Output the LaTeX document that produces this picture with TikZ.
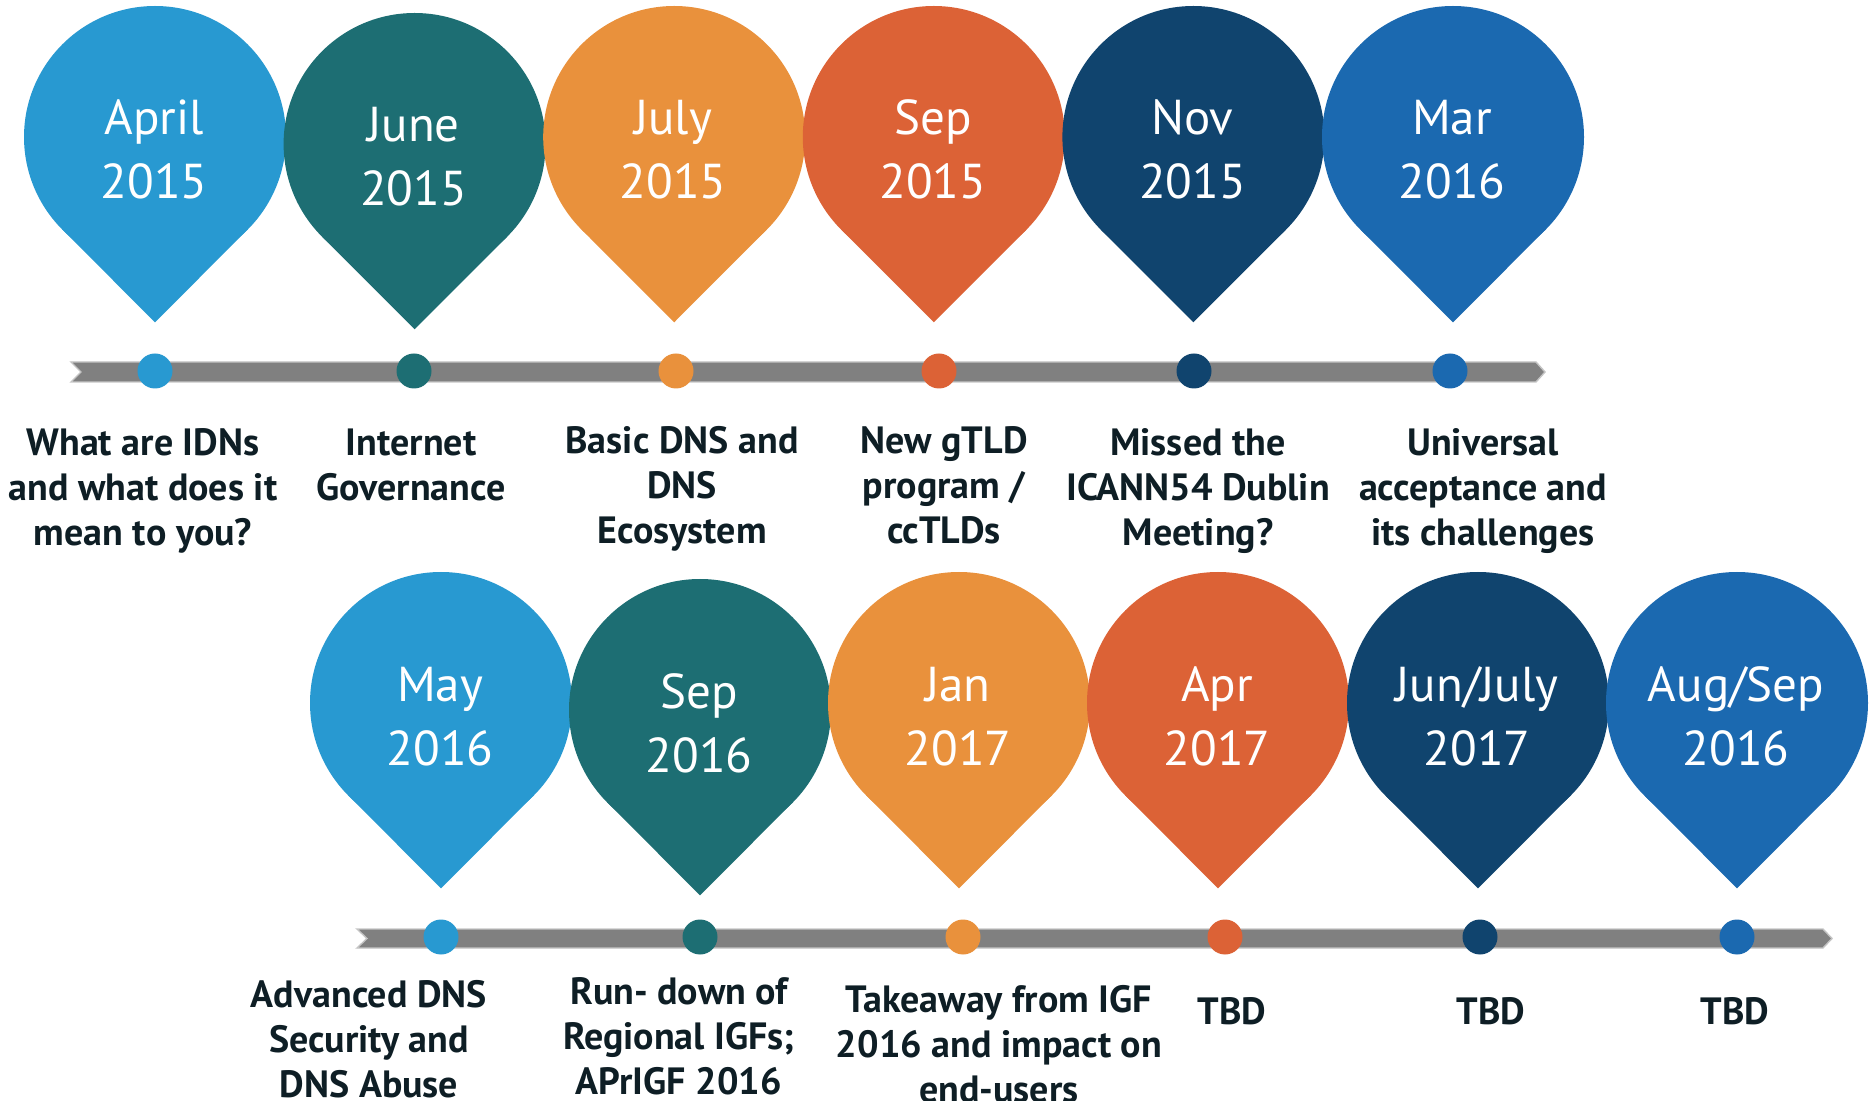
\documentclass[tikz,border=0pt]{standalone}
\usepackage{fontspec}
\setmainfont{PT Sans}
\definecolor{cA}{HTML}{2899D1}
\definecolor{cB}{HTML}{1D6E73}
\definecolor{cC}{HTML}{E9913C}
\definecolor{cD}{HTML}{DC6236}
\definecolor{cE}{HTML}{10446E}
\definecolor{cF}{HTML}{1B69B0}
\definecolor{txt}{HTML}{0E1E25}
\definecolor{barfill}{HTML}{808080}
\definecolor{baredge}{HTML}{C4C4C4}
\newcommand\tlstack[1]{\vtop{\halign{\hfil##\hfil\cr#1\crcr}}}
\newcommand\tlpin[3]{%
  \fill[#3] (#1,#2) circle[radius=131];
  \fill[#3] (#1,#2+185.3) -- (#1-92.6,#2+92.6) -- (#1,#2) -- (#1+92.6,#2+92.6) -- cycle;}
\begin{document}
\begin{tikzpicture}[x=0.5pt,y=-0.5pt,
  pinlabel/.style={text=white,font=\fontsize{24.5}{32}\selectfont,anchor=base,inner sep=0pt},
  desc/.style={text=txt,font=\bfseries\fontsize{19}{22.5}\selectfont,anchor=base,inner sep=0pt},
  dot/.style={circle,inner sep=0pt,minimum size=17.5pt},
  bar/.style={fill=barfill,draw=baredge,line width=0.7pt}]
\useasboundingbox (0,0) rectangle (1876,1101);
% ---- top row ----
\tlpin{155}{137}{cA}
\tlpin{414.6}{144}{cB}
\tlpin{674.2}{137}{cC}
\tlpin{933.8}{137}{cD}
\tlpin{1193.4}{137}{cE}
\tlpin{1453}{137}{cF}
\node[pinlabel] (p1) at (154,135) {\tlstack{April\cr 2015}};
\node[pinlabel] (p2) at (413.6,142) {\tlstack{June\cr 2015}};
\node[pinlabel] (p3) at (673.2,135) {\tlstack{July\cr 2015}};
\node[pinlabel] (p4) at (932.8,135) {\tlstack{Sep\cr 2015}};
\node[pinlabel] (p5) at (1192.4,135) {\tlstack{Nov\cr 2015}};
\node[pinlabel] (p6) at (1452,135) {\tlstack{Mar\cr 2016}};
\path[bar] (71,362) -- (1536,362) -- (1545,372) -- (1536,382) -- (71,382) -- (81,372) -- cycle;
\node[dot,fill=cA] (t1) at (155,371) {};
\node[dot,fill=cB] (t2) at (414,371) {};
\node[dot,fill=cC] (t3) at (676,371) {};
\node[dot,fill=cD] (t4) at (939,371) {};
\node[dot,fill=cE] (t5) at (1194,371) {};
\node[dot,fill=cF] (t6) at (1450,371) {};
\node[desc] (d1) at (143,456) {\tlstack{What are IDNs\cr and what does it\cr mean to you?}};
\node[desc] (d2) at (411,456) {\tlstack{Internet\cr Governance}};
\node[desc] (d3) at (682,454) {\tlstack{Basic DNS and\cr DNS\cr Ecosystem}};
\node[desc] (d4) at (944,454) {\tlstack{New gTLD\cr program /\cr ccTLDs}};
\node[desc] (d5) at (1198,456) {\tlstack{Missed the\cr ICANN54 Dublin\cr Meeting?}};
\node[desc] (d6) at (1483,456) {\tlstack{Universal\cr acceptance and\cr its challenges}};
% ---- bottom row ----
\tlpin{441}{703}{cA}
\tlpin{700}{710}{cB}
\tlpin{959}{703}{cC}
\tlpin{1218}{703}{cD}
\tlpin{1478}{703}{cE}
\tlpin{1737}{703}{cF}
\node[pinlabel] (p7) at (440,702) {\tlstack{May\cr 2016}};
\node[pinlabel] (p8) at (699,709) {\tlstack{Sep\cr 2016}};
\node[pinlabel] (p9) at (958,702) {\tlstack{Jan\cr 2017}};
\node[pinlabel] (p10) at (1217,702) {\tlstack{Apr\cr 2017}};
\node[pinlabel] (p11) at (1477,702) {\tlstack{Jun/July\cr 2017}};
\node[pinlabel] (p12) at (1736,702) {\tlstack{Aug/Sep\cr 2016}};
\path[bar] (357,929) -- (1823,929) -- (1832,938.5) -- (1823,948) -- (357,948) -- (367,938.5) -- cycle;
\node[dot,fill=cA] (b1) at (441,937) {};
\node[dot,fill=cB] (b2) at (700,937) {};
\node[dot,fill=cC] (b3) at (963,937) {};
\node[dot,fill=cD] (b4) at (1225,937) {};
\node[dot,fill=cE] (b5) at (1480,937) {};
\node[dot,fill=cF] (b6) at (1737,937) {};
\node[desc] (d7) at (369,1007) {\tlstack{Advanced DNS\cr Security and\cr DNS Abuse}};
\node[desc] (d8) at (679,1004) {\tlstack{Run- down of\cr Regional IGFs;\cr APrIGF 2016}};
\node[desc] (d9) at (999,1012) {\tlstack{Takeaway from IGF\cr 2016 and impact on\cr end-users}};
\node[desc] (d10) at (1232,1024) {TBD};
\node[desc] (d11) at (1491,1024) {TBD};
\node[desc] (d12) at (1735,1024) {TBD};
\end{tikzpicture}
\end{document}
